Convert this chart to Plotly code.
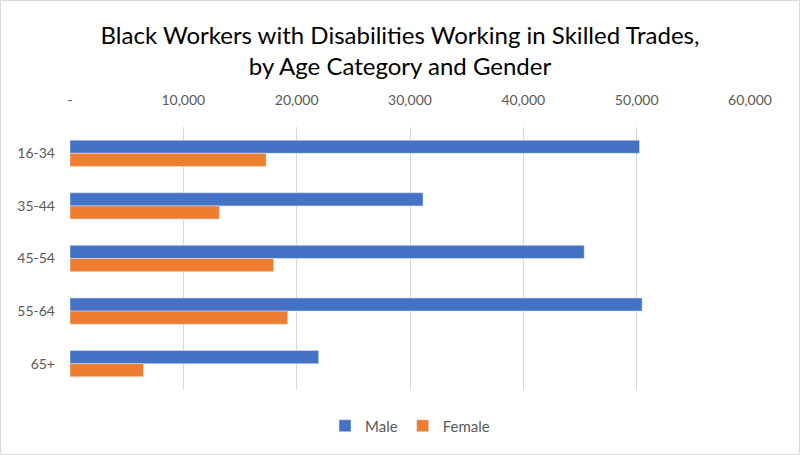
import plotly.graph_objects as go

categories = ["16-34", "35-44", "45-54", "55-64", "65+"]
male = [50250, 31150, 45370, 50480, 21940]
female = [17300, 13180, 17970, 19210, 6480]
tick_vals = [0, 10000, 20000, 30000, 40000, 50000, 60000]
tick_text = ["-", "10,000", "20,000", "30,000", "40,000", "50,000", "60,000"]

FONT = "Lato, 'Open Sans', sans-serif"

fig = go.Figure()
fig.add_trace(go.Bar(y=categories, x=male, name="Male", orientation="h",
                     marker=dict(color="#4472C4")))
fig.add_trace(go.Bar(y=categories, x=female, name="Female", orientation="h",
                     marker=dict(color="#ED7D31")))

L, R, T, B = 70, 50, 127, 65
W, H = 800, 455
pw, ph = W - L - R, H - T - B

fig.update_layout(
    width=W, height=H,
    margin=dict(l=L, r=R, t=T, b=B),
    paper_bgcolor="white", plot_bgcolor="white",
    barmode="group", bargap=0.5, bargroupgap=0,
    font=dict(family=FONT, color="#595959", size=14),
    title=dict(text="Black Workers with Disabilities Working in Skilled Trades,<br>by Age Category and Gender",
               x=0.5, xanchor="center", y=1 - 44 / H, yanchor="middle",
               font=dict(family=FONT, size=24, color="#000000")),
    xaxis=dict(side="top", range=[0, 60000], tickvals=tick_vals, ticktext=tick_text,
               showgrid=True, gridcolor="#D9D9D9", gridwidth=1, zeroline=False,
               showline=False, ticks="", ticklabelstandoff=18,
               tickfont=dict(size=14, color="#595959")),
    yaxis=dict(autorange="reversed", showgrid=False, zeroline=False, showline=False,
               ticks="", ticklabelstandoff=14, tickfont=dict(size=14, color="#595959")),
    legend=dict(orientation="h", x=0.5, xanchor="center", y=-(426 - (T + ph)) / ph,
                yanchor="middle", font=dict(size=15, color="#595959"),
                itemwidth=30, traceorder="normal"),
    shapes=[dict(type="rect", xref="paper", yref="paper",
                 x0=(0.5 - L) / pw, x1=(W - 0.5 - L) / pw,
                 y0=-(H - 0.5 - T - ph) / ph, y1=1 + (T - 0.5) / ph,
                 line=dict(color="#D9D9D9", width=1), fillcolor="rgba(0,0,0,0)",
                 layer="below")],
)

fig.write_html("out.html")
